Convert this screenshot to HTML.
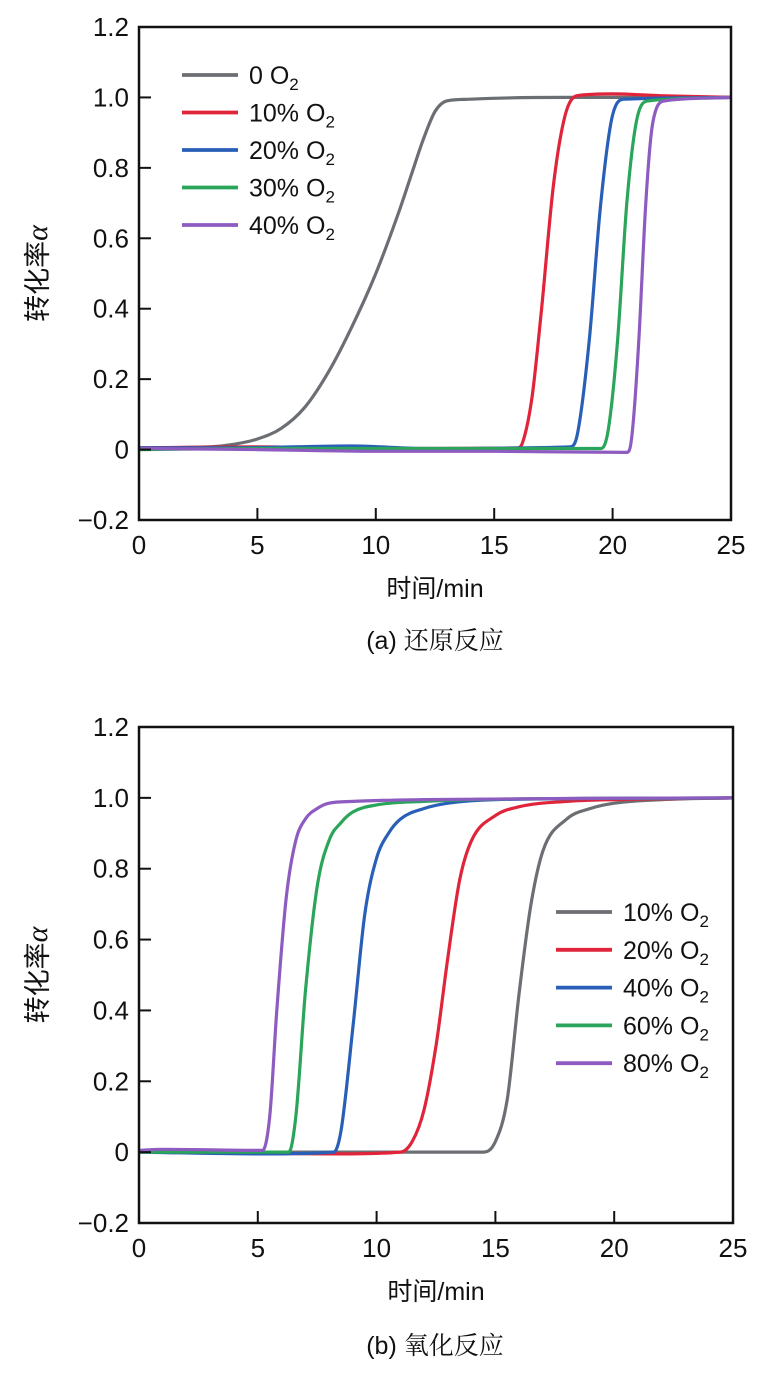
<!DOCTYPE html>
<html><head><meta charset="utf-8"><style>
html,body{margin:0;padding:0;background:#fff;width:769px;height:1399px;overflow:hidden}
svg{display:block}
text{font-family:"Liberation Sans","Noto Sans CJK SC",sans-serif;fill:#111}
</style></head><body>
<svg id="fig" width="769" height="1399" viewBox="0 0 769 1399" xmlns="http://www.w3.org/2000/svg"></svg>
<script>
const xTicks=[0,5,10,15,20,25];
const yTicks=[-0.2,0,0.2,0.4,0.6,0.8,1.0,1.2];
const yTickLabels=["\u22120.2","0","0.2","0.4","0.6","0.8","1.0","1.2"];
const colors=["#6b6e73","#e0243a","#2a5fb8","#2aa55a","#8e5cc0"];
// Panel a (reduction)
const aLabels=["0 O","10% O","20% O","30% O","40% O"];
const aGrayX=[0,3,4,5,6,7,8,9,10,11,11.5,12,12.5,13,14,18,25];
const aGrayY=[0.005,0.008,0.015,0.03,0.06,0.12,0.22,0.35,0.5,0.68,0.78,0.88,0.96,0.99,0.995,1.0,1.0];
const aRedX=[0,5,10,16,16.2,16.6,17,17.5,18,18.5,20,22,25];
const aRedY=[0.005,0.008,0.003,0.005,0.02,0.15,0.4,0.75,0.95,1.005,1.01,1.005,1.0];
const aBlueX=[0,4,9,12,18.2,18.5,19,19.5,20,20.5,25];
const aBlueY=[0.005,0.005,0.01,0.003,0.008,0.04,0.3,0.7,0.95,0.995,1.0];
const aGreenX=[0,5,10,15,19.5,19.8,20.2,20.6,21,21.5,25];
const aGreenY=[0,0.003,0.003,0.003,0.003,0.05,0.3,0.7,0.93,0.99,1.0];
const aPurpleX=[0,5,10,15,20.6,20.8,21.1,21.4,21.7,22.2,25];
const aPurpleY=[0.003,0.0,-0.005,-0.005,-0.008,0.03,0.3,0.7,0.93,0.99,1.0];
// Panel b (oxidation)
const bLabels=["10% O","20% O","40% O","60% O","80% O"];
const bGrayX=[0,10,14.5,15,15.5,16,16.5,17,18,19,20,22,25];
const bGrayY=[0,0,0,0.03,0.15,0.45,0.7,0.85,0.94,0.97,0.985,0.995,1.0];
const bRedX=[0,8,11,11.5,12,12.5,13,13.5,14,15,16,18,20,25];
const bRedY=[0,-0.005,0,0.03,0.12,0.3,0.55,0.77,0.88,0.95,0.975,0.99,0.995,1.0];
const bBlueX=[0,5,8.2,8.5,9,9.5,10,10.5,11,12,13,15,25];
const bBlueY=[0,-0.005,0,0.06,0.35,0.67,0.83,0.9,0.94,0.97,0.985,0.995,1.0];
const bGreenX=[0,4,6.3,6.6,7,7.5,8,8.5,9,10,12,14,25];
const bGreenY=[0,0,0,0.1,0.45,0.75,0.88,0.93,0.96,0.98,0.99,0.995,1.0];
const bPurpleX=[0,1,5.2,5.5,5.8,6.2,6.6,7,7.5,8,9,12,25];
const bPurpleY=[0.005,0.008,0.005,0.1,0.4,0.72,0.88,0.94,0.97,0.985,0.99,0.995,1.0];

const NS="http://www.w3.org/2000/svg";
const svg=document.getElementById('fig');
function mk(tag,attrs,parent,txt){const e=document.createElementNS(NS,tag);for(const k in attrs)e.setAttribute(k,attrs[k]);if(txt!==undefined)e.textContent=txt;(parent||svg).appendChild(e);return e;}

// monotone cubic path through screen points
function monoPath(px,py){
  const n=px.length;const d=[],m=new Array(n);
  for(let i=0;i<n-1;i++)d.push((py[i+1]-py[i])/(px[i+1]-px[i]));
  m[0]=d[0];m[n-1]=d[n-2];
  for(let i=1;i<n-1;i++){ if(d[i-1]*d[i]<=0)m[i]=0; else { m[i]=(d[i-1]+d[i])/2; const a=m[i]/d[i-1],b=m[i]/d[i],s=a*a+b*b; if(s>9){const t=3/Math.sqrt(s);m[i]=t*(d[i-1]+d[i])/2;} } }
  let s='M'+px[0].toFixed(1)+','+py[0].toFixed(1);
  for(let i=0;i<n-1;i++){const h=(px[i+1]-px[i])/3;
    s+='C'+(px[i]+h).toFixed(1)+','+(py[i]+m[i]*h).toFixed(1)+' '+(px[i+1]-h).toFixed(1)+','+(py[i+1]-m[i+1]*h).toFixed(1)+' '+px[i+1].toFixed(1)+','+py[i+1].toFixed(1);}
  return s;
}

function panel(id,box,series,labels,leg,caption,capY){
  const g=mk('g',{});
  
  
  const sx=v=>box.l+(v-0)/(25-0)*(box.r-box.l);
  const sy=v=>box.b-(v+0.2)/1.4*(box.b-box.t);
  series.forEach((s,i)=>{
    const d=monoPath(s.x.map(sx),s.y.map(sy));
    const p=mk('path',{d:d,fill:'none',stroke:colors[i],'stroke-width':3.2,'stroke-linejoin':'round'},g);
    
    
  });
  const fr=mk('rect',{x:box.l,y:box.t,width:box.r-box.l,height:box.b-box.t,fill:'none',stroke:'#111','stroke-width':2.5},g);
  
  
  xTicks.forEach(v=>{
    mk('line',{x1:sx(v),x2:sx(v),y1:box.b,y2:box.b-12,stroke:'#111','stroke-width':2},g);
    const t=mk('text',{x:sx(v),y:box.b+34,'text-anchor':'middle','font-size':26},g,String(v));
    
    
  });
  yTicks.forEach((v,i)=>{
    mk('line',{x1:box.l,x2:box.l+12,y1:sy(v),y2:sy(v),stroke:'#111','stroke-width':2},g);
    const t=mk('text',{x:box.l-10,y:sy(v)+9,'text-anchor':'end','font-size':26},g,yTickLabels[i]);
    
    
  });
  const xt=mk('text',{x:(box.l+box.r)/2,y:box.b+77,'text-anchor':'middle','font-size':25},g,'时间/min');
  
  
  const cy=(box.t+box.b)/2;
  const yt=mk('text',{x:0,y:0,'text-anchor':'middle','font-size':27,transform:'translate(47,'+cy+') rotate(-90)'},g);
  
  
  mk('tspan',{},yt,'转化率');mk('tspan',{'font-style':'italic','font-family':'Liberation Serif, serif','font-size':30},yt,'α');
  labels.forEach((lb,i)=>{
    const y=leg.y+i*leg.dy;
    const e=mk('g',{},g);
    
    
    mk('line',{x1:leg.x,x2:leg.x+56,y1:y,y2:y,stroke:colors[i],'stroke-width':3.8},e);
    const t=mk('text',{x:leg.x+67,y:y+9,'font-size':25},e,lb);
    mk('tspan',{'font-size':17,dy:6},t,'2');
  });
  const c=mk('text',{x:435,y:capY,'text-anchor':'middle','font-size':25},g);
  
  
  mk('tspan',{'font-family':'Liberation Sans, sans-serif'},c,caption[0]);mk('tspan',{'font-family':'Noto Serif CJK SC, serif'},c,caption[1]);
}
panel('panel-a-reduction',{l:139,r:731,t:27,b:520},
  [{x:aGrayX,y:aGrayY},{x:aRedX,y:aRedY},{x:aBlueX,y:aBlueY},{x:aGreenX,y:aGreenY},{x:aPurpleX,y:aPurpleY}],
  aLabels,{x:182,y:75,dy:37.5},['(a) ','还原反应'],649);
panel('panel-b-oxidation',{l:139,r:733,t:727,b:1223},
  [{x:bGrayX,y:bGrayY},{x:bRedX,y:bRedY},{x:bBlueX,y:bBlueY},{x:bGreenX,y:bGreenY},{x:bPurpleX,y:bPurpleY}],
  bLabels,{x:556,y:912,dy:37.8},['(b) ','氧化反应'],1354);
</script>
</body></html>
